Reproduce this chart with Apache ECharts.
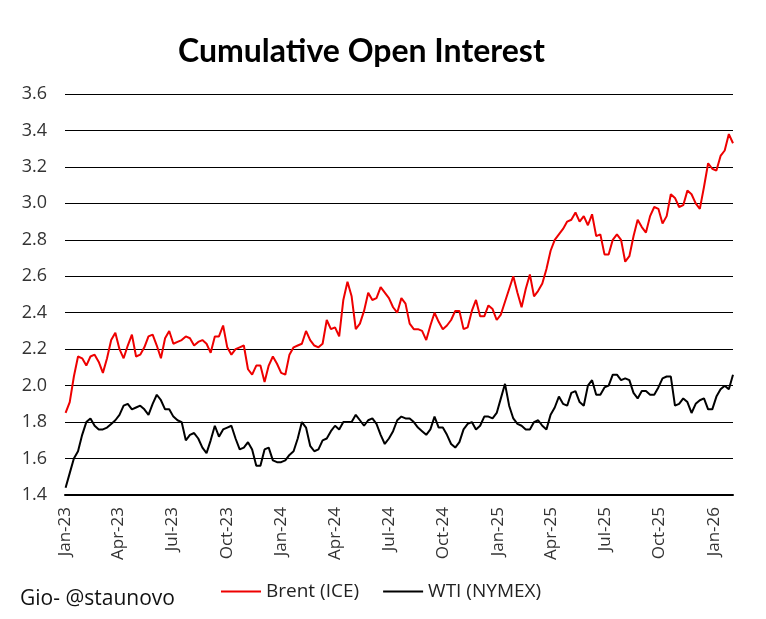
<!DOCTYPE html>
<html><head><meta charset="utf-8">
<script src="https://cdn.jsdelivr.net/npm/echarts@6/dist/echarts.min.js"></script>
<style>html,body{margin:0;padding:0;background:#fff}#c{width:766px;height:619px}</style>
</head><body><div id="c"></div>
<script>
// Weekly observations starting 2023-01-02
const startDate = [2023, 0, 2];
const stepDays = 7;

const brent = [
1.85,1.91,2.05,2.16,2.15,2.11,2.16,2.17,2.13,2.07,
2.15,2.25,2.29,2.20,2.15,2.22,2.28,2.16,2.17,2.21,
2.27,2.28,2.22,2.15,2.26,2.30,2.23,2.24,2.25,2.27,
2.26,2.22,2.24,2.25,2.23,2.18,2.27,2.27,2.33,2.21,
2.17,2.20,2.21,2.22,2.09,2.06,2.11,2.11,2.02,2.11,
2.16,2.12,2.07,2.06,2.17,2.21,2.22,2.23,2.30,2.25,
2.22,2.21,2.23,2.36,2.31,2.32,2.27,2.47,2.57,2.49,
2.31,2.34,2.41,2.51,2.47,2.48,2.54,2.51,2.48,2.43,
2.40,2.48,2.45,2.34,2.31,2.31,2.30,2.25,2.33,2.40,
2.35,2.31,2.33,2.36,2.41,2.41,2.31,2.32,2.41,2.47,
2.38,2.38,2.44,2.42,2.36,2.39,2.46,2.53,2.60,2.51,
2.43,2.53,2.61,2.49,2.52,2.56,2.64,2.74,2.80,2.83,
2.86,2.90,2.91,2.95,2.90,2.93,2.88,2.94,2.82,2.83,
2.72,2.72,2.80,2.83,2.80,2.68,2.71,2.82,2.91,2.87,
2.84,2.93,2.98,2.97,2.89,2.93,3.05,3.03,2.98,2.99,
3.07,3.05,3.00,2.97,3.09,3.22,3.19,3.18,3.26,3.29,
3.38,3.33
];
const wti = [
1.44,1.52,1.60,1.64,1.73,1.80,1.82,1.78,1.76,1.76,
1.77,1.79,1.81,1.84,1.89,1.90,1.87,1.88,1.89,1.87,
1.84,1.90,1.95,1.92,1.87,1.87,1.83,1.81,1.80,1.70,
1.73,1.74,1.71,1.66,1.63,1.70,1.78,1.72,1.76,1.77,
1.78,1.71,1.65,1.66,1.69,1.65,1.56,1.56,1.65,1.66,
1.59,1.58,1.58,1.59,1.62,1.64,1.71,1.80,1.77,1.67,
1.64,1.65,1.70,1.71,1.75,1.78,1.76,1.80,1.80,1.80,
1.84,1.81,1.78,1.81,1.82,1.79,1.73,1.68,1.71,1.75,
1.81,1.83,1.82,1.82,1.80,1.77,1.75,1.73,1.76,1.83,
1.77,1.77,1.73,1.68,1.66,1.69,1.76,1.79,1.80,1.76,
1.78,1.83,1.83,1.82,1.85,1.93,2.01,1.89,1.82,1.79,
1.78,1.76,1.76,1.80,1.81,1.78,1.76,1.84,1.88,1.94,
1.90,1.89,1.96,1.97,1.91,1.89,2.00,2.03,1.95,1.95,
1.99,2.00,2.06,2.06,2.03,2.04,2.03,1.96,1.93,1.97,
1.97,1.95,1.95,1.99,2.04,2.05,2.05,1.89,1.90,1.93,
1.91,1.85,1.90,1.92,1.93,1.87,1.87,1.94,1.98,2.00,
1.98,2.06
];
const tickDates = [
[2023,0,1],[2023,3,1],[2023,6,1],[2023,9,1],
[2024,0,1],[2024,3,1],[2024,6,1],[2024,9,1],
[2025,0,1],[2025,3,1],[2025,6,1],[2025,9,1],
[2026,0,1]
];
const seriesNames = ['Brent (ICE)', 'WTI (NYMEX)'];
const monthNames = ['Jan','Feb','Mar','Apr','May','Jun','Jul','Aug','Sep','Oct','Nov','Dec'];
const titleText = 'Cumulative Open Interest';
const footerText = 'Gio- @staunovo';

const DAY = 86400000;
const t0 = Date.UTC(startDate[0], startDate[1], startDate[2]);
const dates = brent.map((_, i) => t0 + i * stepDays * DAY);
const tickVals = tickDates.map(d => Date.UTC(d[0], d[1], d[2]));
const fmt = v => { const d = new Date(v); return monthNames[d.getUTCMonth()] + '-' + String(d.getUTCFullYear()).slice(2); };

const chart = echarts.init(document.getElementById('c'), null, {renderer: 'canvas'});
chart.setOption({
  animation: false,
  backgroundColor: '#fff',
  title: [
    {text: titleText, left: 173, top: 31,
     textStyle: {fontFamily: 'Lato', fontWeight: 'bold', fontSize: 32, color: '#000'}},
    {text: footerText, left: 15, top: 584,
     textStyle: {fontFamily: 'Open Sans', fontWeight: 'normal', fontSize: 21, color: '#111'}}
  ],
  legend: {
    data: seriesNames, left: 216, top: 577, icon: 'rect', itemWidth: 40, itemHeight: 2, itemGap: 24,
    textStyle: {fontFamily: 'Open Sans', fontSize: 19, color: '#222'}
  },
  grid: {left: 65, right: 33, top: 94, bottom: 124},
  xAxis: {
    type: 'value', min: tickVals[0], max: dates[dates.length - 1],
    axisLine: {show: true, lineStyle: {color: '#000', width: 2}},
    axisTick: {show: false},
    splitLine: {show: false},
    axisLabel: {customValues: tickVals, rotate: 90, margin: 12, formatter: fmt,
      fontFamily: 'Open Sans', fontSize: 17, color: '#333', hideOverlap: false}
  },
  yAxis: {
    type: 'value', min: 1.4, max: 3.6, interval: 0.2,
    axisLine: {show: false}, axisTick: {show: false},
    splitLine: {show: true, lineStyle: {color: '#000', width: 1}},
    axisLabel: {formatter: v => v.toFixed(1), margin: 18, fontFamily: 'Open Sans', fontSize: 18, color: '#333'}
  },
  series: [
    {name: seriesNames[0], type: 'line', showSymbol: false, symbol: 'none',
     data: dates.map((d, i) => [d, brent[i]]), lineStyle: {color: '#ee0000', width: 2}, itemStyle: {color: '#ee0000'}},
    {name: seriesNames[1], type: 'line', showSymbol: false, symbol: 'none',
     data: dates.map((d, i) => [d, wti[i]]), lineStyle: {color: '#000', width: 2}, itemStyle: {color: '#000'}}
  ]
});
</script></body></html>
